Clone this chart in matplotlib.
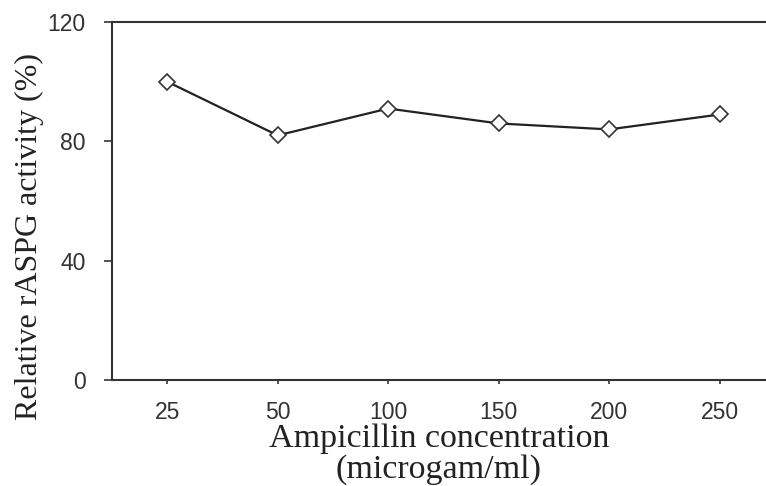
import matplotlib
matplotlib.use("Agg")
import matplotlib.pyplot as plt
import numpy as np

categories = ["25", "50", "100", "150", "200", "250"]
activity = [100, 82, 91, 86, 84, 89]
y_ticks = [0, 40, 80, 120]

fig = plt.figure(figsize=(7.66, 4.86), dpi=100)
ax = fig.add_axes([0.1462, 0.2181, 0.8538, 0.7366])

x = np.arange(len(categories))
ax.plot(x, activity, color="#222222", linewidth=1.6, marker="D", markersize=8,
        markerfacecolor="white", markeredgecolor="#333333", markeredgewidth=1.2)

ax.set_xlim(-0.5, 5.42)
ax.set_ylim(0, 120)
ax.set_xticks(x)
ax.set_xticklabels(categories)
ax.set_yticks(y_ticks)

for s in ["left", "bottom", "top"]:
    ax.spines[s].set_color("#333333")
    ax.spines[s].set_linewidth(1.5)
ax.spines["right"].set_visible(False)

ax.tick_params(axis="y", direction="out", length=6, width=1.3, color="#444444",
               pad=13, labelsize=16.5, labelcolor="#333333")
ax.tick_params(axis="x", direction="out", length=3, width=1.3, color="#444444",
               pad=12, labelsize=16.5, labelcolor="#333333")
for lab in ax.get_xticklabels() + ax.get_yticklabels():
    lab.set_family("Liberation Sans")

ax.set_xlabel("Ampicillin concentration\n(microgam/ml)", family="Liberation Serif",
              fontsize=24.5, color="#222222", linespacing=0.98, labelpad=0)
ax.set_ylabel("Relative rASPG activity (%)", family="Liberation Serif",
              fontsize=23, color="#222222")
ax.yaxis.set_label_coords(-0.104, 0.40)

fig.savefig("out.png", dpi=100)
